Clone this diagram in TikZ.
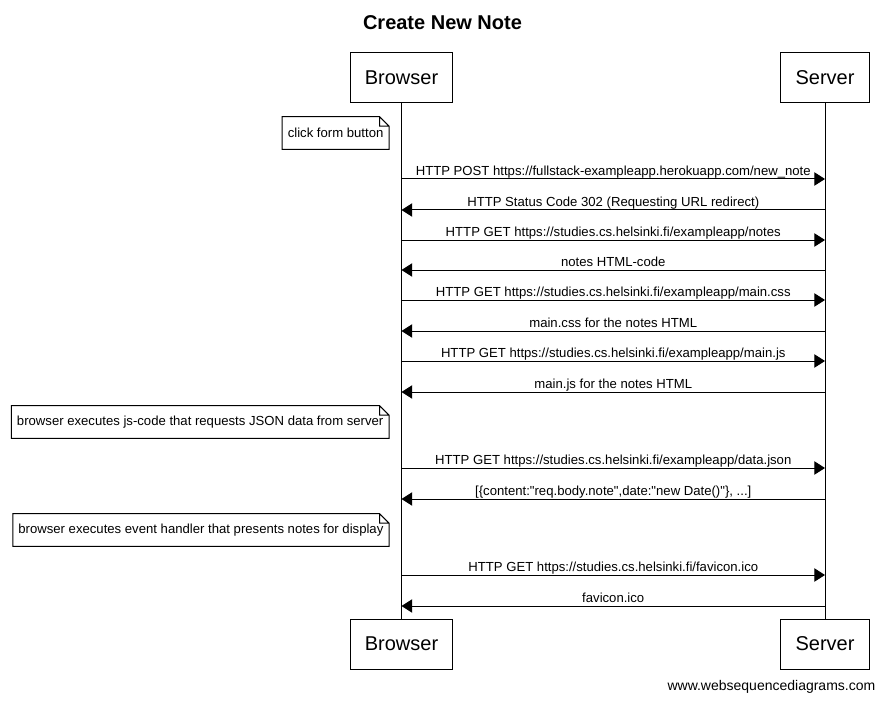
\documentclass[tikz,border=0pt]{standalone}
\usepackage{fontspec}
\setmainfont{Liberation Sans}[Ligatures=TeXOff]
\usetikzlibrary{arrows.meta,positioning}

\begin{document}
\begin{tikzpicture}[
            x=0.75pt, y=-0.75pt,
            actor/.style={rectangle, draw, line width=0.75pt,
                          minimum height=37.5pt, inner xsep=11pt,
                          font=\fontsize{15}{18}\selectfont},
            note/.style={rectangle, inner xsep=4pt, minimum height=24pt,
                         font=\fontsize{9.85}{12}\selectfont},
            msg/.style={-{Triangle[length=8pt,width=10pt]}, line width=0.75pt},
            lbl/.style={midway, above, inner sep=2.2pt, text depth=0pt,
                        font=\fontsize{9.85}{12}\selectfont}
        ]
            \useasboundingbox (0,0) rectangle (884,702);

            \node[font=\bfseries\fontsize{15}{18}\selectfont] (title) at (442.5,22.5) {Create New Note};

            % participants
            \node[actor] (btop) at (401.5,78) {Browser};
            \node[actor] (stop) at (825,78) {Server};
            \node[actor] (bbot) at (401.5,644) {Browser};
            \node[actor] (sbot) at (825,644) {Server};

            \draw[line width=0.75pt] (btop) -- (bbot);
            \draw[line width=0.75pt] (stop) -- (sbot);

            % message points on the lifelines
            \foreach \y [count=\i] in {179,210,240,270,300,331,361,392,468,499,575,606} {
                \coordinate (b\i) at (401.5,\y);
                \coordinate (s\i) at (825,\y);
            }

            % notes
            \node[note, anchor=east] (n1) at (389,133) {click form button};
            \node[note, anchor=east] (n2) at (389,422) {browser executes js-code that requests JSON data from server};
            \node[note, anchor=east] (n3) at (389,530) {browser executes event handler that presents notes for display};
            \foreach \n in {n1,n2,n3}
                \draw[line width=0.75pt] (\n.south west) -- (\n.south east)
                    -- ([yshift=-7pt]\n.north east) -- ([xshift=-7pt]\n.north east)
                    -- (\n.north west) -- cycle
                    ([xshift=-7pt]\n.north east) |- ([yshift=-7pt]\n.north east);

            % messages
            \draw[msg] (b1) -- (s1) node[lbl] {HTTP POST https://fullstack-exampleapp.herokuapp.com/new\_note};
            \draw[msg] (s2) -- (b2) node[lbl] {HTTP Status Code 302 (Requesting URL redirect)};
            \draw[msg] (b3) -- (s3) node[lbl] {HTTP GET https://studies.cs.helsinki.fi/exampleapp/notes};
            \draw[msg] (s4) -- (b4) node[lbl] {notes HTML-code};
            \draw[msg] (b5) -- (s5) node[lbl] {HTTP GET https://studies.cs.helsinki.fi/exampleapp/main.css};
            \draw[msg] (s6) -- (b6) node[lbl] {main.css for the notes HTML};
            \draw[msg] (b7) -- (s7) node[lbl] {HTTP GET https://studies.cs.helsinki.fi/exampleapp/main.js};
            \draw[msg] (s8) -- (b8) node[lbl] {main.js for the notes HTML};
            \draw[msg] (b9) -- (s9) node[lbl] {HTTP GET https://studies.cs.helsinki.fi/exampleapp/data.json};
            \draw[msg] (s10) -- (b10) node[lbl] {[\{content:"req.body.note",date:"new Date()"\}, ...]};
            \draw[msg] (b11) -- (s11) node[lbl] {HTTP GET https://studies.cs.helsinki.fi/favicon.ico};
            \draw[msg] (s12) -- (b12) node[lbl] {favicon.ico};

            \node[anchor=east, font=\fontsize{10.5}{12}\selectfont] (credit) at (880,687) {www.websequencediagrams.com};
        \end{tikzpicture}
\end{document}
